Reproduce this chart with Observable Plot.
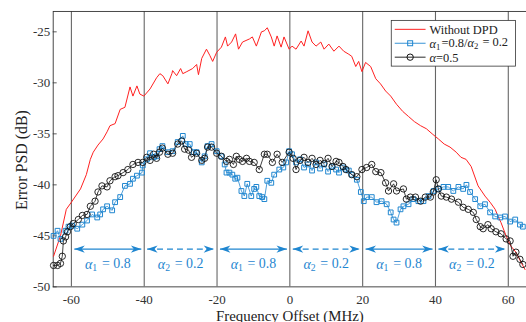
<!DOCTYPE html>
<html>
<head>
<meta charset="utf-8">
<script src="https://cdn.jsdelivr.net/npm/d3@7"></script>
<script src="https://cdn.jsdelivr.net/npm/@observablehq/plot@0.6"></script>
<style>
  html, body { margin: 0; padding: 0; background: #fff; overflow: hidden; }
  #chart { position: relative; width: 526px; height: 322px; overflow: hidden; }
</style>
</head>
<body>
<div id="chart"></div>
<script>
// Error PSD (dB) versus frequency offset (MHz), [offset, psd] pairs.
const withoutDpd = [
  [-64.9,-47.0],[-63.0,-45.0],[-61.4,-42.4],[-60.0,-41.7],[-57.5,-40.4],[-55.9,-39.0],[-54.8,-37.5],[-54.0,-36.8],
  [-52.7,-36.1],[-51.3,-35.5],[-50.2,-34.8],[-49.4,-34.2],[-48.0,-34.0],[-46.6,-32.6],[-45.3,-32.4],[-43.9,-30.4],
  [-43.1,-31.3],[-42.0,-30.3],[-41.2,-31.1],[-40.1,-31.3],[-38.4,-30.6],[-36.6,-29.5],[-35.7,-29.1],[-34.9,-29.3],
  [-33.5,-30.1],[-32.4,-29.1],[-32.2,-28.8],[-31.1,-29.3],[-30.0,-28.6],[-29.4,-29.1],[-28.3,-28.9],[-26.7,-28.6],
  [-25.6,-28.2],[-25.1,-29.2],[-24.2,-27.6],[-22.9,-26.7],[-22.0,-27.3],[-21.2,-27.9],[-20.1,-27.0],[-18.8,-26.5],
  [-17.7,-25.5],[-17.1,-26.4],[-16.0,-26.0],[-14.9,-25.2],[-14.1,-26.7],[-13.0,-26.0],[-11.1,-25.7],[-10.3,-25.5],
  [-9.2,-26.4],[-7.8,-25.0],[-7.0,-24.9],[-6.2,-24.6],[-5.1,-25.5],[-4.3,-26.4],[-3.5,-25.4],[-2.4,-26.5],
  [-1.6,-25.5],[-0.2,-26.7],[0.6,-26.4],[1.7,-26.7],[3.1,-25.9],[3.9,-26.4],[5.0,-24.9],[6.1,-26.0],
  [7.2,-26.4],[8.5,-26.0],[9.4,-26.7],[10.7,-26.2],[12.1,-26.9],[13.5,-26.4],[14.8,-26.9],[16.2,-27.2],
  [17.0,-27.4],[18.1,-28.4],[18.9,-27.9],[19.8,-28.9],[20.8,-28.0],[22.2,-28.4],[23.6,-29.6],[24.9,-30.1],
  [26.3,-30.8],[27.7,-31.3],[29.3,-32.1],[31.0,-32.8],[32.6,-33.3],[34.2,-33.8],[35.9,-34.2],[37.5,-34.5],
  [39.1,-35.0],[40.8,-35.5],[42.4,-36.0],[44.0,-36.3],[45.7,-36.8],[47.0,-37.3],[48.4,-37.5],[49.8,-38.2],
  [51.7,-40.1],[53.6,-41.1],[55.0,-41.7],[56.4,-42.4],[57.2,-43.1],[58.0,-43.7],[59.4,-45.0],[60.7,-46.0],
  [62.1,-46.6],[63.5,-47.6],[64.6,-48.3]
];

const alphaSplit = [
  [-64.9,-45.0],[-63.8,-44.5],[-63.0,-45.3],[-61.6,-44.5],[-60.8,-44.1],[-59.8,-44.0],[-58.4,-44.3],[-57.0,-43.9],
  [-55.7,-43.5],[-54.3,-42.9],[-52.9,-43.2],[-52.1,-42.9],[-51.3,-42.4],[-50.2,-42.1],[-48.8,-42.5],[-48.0,-41.7],
  [-46.6,-41.2],[-45.3,-40.1],[-43.9,-39.9],[-43.1,-39.4],[-42.0,-39.1],[-40.6,-38.8],[-40.4,-38.1],[-39.3,-37.5],
  [-38.4,-36.9],[-37.4,-37.3],[-36.6,-37.2],[-35.8,-36.5],[-35.0,-36.2],[-33.5,-36.8],[-32.2,-36.7],[-30.8,-35.8],
  [-29.4,-35.2],[-28.6,-36.0],[-27.5,-36.0],[-26.4,-36.8],[-25.6,-36.8],[-24.2,-37.8],[-23.4,-37.2],[-22.6,-36.2],
  [-21.5,-36.0],[-20.1,-36.7],[-18.8,-37.2],[-17.9,-38.0],[-17.4,-38.8],[-16.6,-38.8],[-15.8,-39.0],[-15.0,-39.4],
  [-14.4,-39.3],[-13.3,-40.6],[-12.5,-41.1],[-11.7,-39.9],[-10.6,-41.1],[-9.8,-40.4],[-9.2,-40.2],[-8.4,-41.1],
  [-7.6,-41.2],[-7.0,-41.4],[-6.2,-39.6],[-5.1,-39.8],[-4.3,-39.0],[-2.9,-38.5],[-1.8,-38.3],[-1.0,-37.8],
  [-0.2,-36.7],[0.6,-37.0],[1.7,-37.8],[2.8,-37.5],[3.9,-38.3],[5.0,-38.0],[6.1,-38.6],[7.2,-37.8],
  [8.3,-38.4],[9.4,-38.0],[10.5,-38.7],[11.6,-38.2],[12.7,-38.5],[13.5,-38.8],[14.6,-38.3],[15.4,-38.5],
  [16.2,-38.6],[17.0,-39.0],[18.4,-39.5],[19.5,-40.7],[20.3,-41.6],[21.1,-41.2],[22.5,-41.2],[23.8,-41.7],
  [25.2,-41.6],[26.6,-41.9],[27.7,-42.7],[28.5,-43.4],[29.3,-43.7],[30.4,-42.4],[31.2,-42.1],[32.6,-41.9],
  [33.9,-41.4],[35.3,-41.6],[36.7,-41.6],[38.1,-41.1],[39.5,-40.6],[40.8,-40.4],[42.2,-40.2],[43.5,-40.2],
  [44.9,-40.6],[46.3,-40.2],[47.6,-40.4],[48.5,-40.0],[49.5,-40.7],[50.9,-41.4],[52.3,-42.1],[53.6,-41.9],
  [55.0,-42.7],[56.4,-43.1],[57.8,-43.2],[59.1,-43.1],[60.5,-43.6],[61.9,-43.4],[63.2,-43.9],[64.0,-44.1]
];

const alphaHalf = [
  [-64.9,-47.9],[-63.8,-47.9],[-63.0,-47.7],[-62.5,-47.0],[-62.2,-45.5],[-61.6,-45.1],[-61.1,-44.6],[-60.3,-44.1],
  [-59.5,-43.8],[-58.1,-43.4],[-57.0,-43.0],[-55.7,-42.9],[-54.8,-42.1],[-53.5,-41.6],[-52.7,-40.7],[-51.6,-40.1],
  [-50.2,-40.2],[-49.4,-39.6],[-48.0,-39.2],[-47.2,-39.1],[-45.8,-38.8],[-44.5,-38.5],[-43.1,-38.0],[-41.7,-37.8],
  [-40.4,-37.8],[-39.3,-37.3],[-38.4,-37.6],[-37.4,-37.0],[-36.6,-37.4],[-35.8,-36.8],[-35.0,-36.4],[-33.5,-37.0],
  [-32.2,-36.9],[-30.8,-36.0],[-29.7,-35.7],[-28.9,-36.5],[-27.8,-36.6],[-27.0,-37.3],[-25.6,-36.9],[-24.2,-37.6],
  [-23.4,-37.4],[-22.6,-36.3],[-21.5,-36.3],[-20.1,-36.9],[-18.8,-37.2],[-17.4,-37.7],[-16.6,-37.5],[-15.5,-38.0],
  [-14.7,-37.2],[-13.9,-37.5],[-13.0,-37.7],[-11.9,-37.4],[-11.1,-37.7],[-9.8,-37.8],[-8.4,-38.5],[-7.0,-37.0],
  [-6.2,-37.0],[-4.8,-37.8],[-3.5,-37.0],[-2.1,-37.8],[-0.2,-36.8],[0.9,-37.4],[1.7,-38.5],[2.8,-37.6],
  [3.9,-37.3],[5.0,-37.8],[6.1,-37.4],[7.2,-38.0],[8.3,-37.6],[9.4,-37.9],[10.5,-37.4],[11.6,-38.2],
  [12.7,-37.7],[13.5,-37.8],[14.6,-38.2],[15.4,-38.5],[17.0,-39.0],[18.4,-39.2],[19.8,-38.5],[21.1,-38.3],
  [22.5,-38.0],[23.6,-38.7],[25.0,-38.8],[26.3,-39.8],[27.1,-40.6],[28.5,-39.9],[29.3,-40.6],[31.2,-40.4],
  [32.0,-41.4],[33.1,-41.2],[34.5,-41.2],[35.9,-41.6],[37.2,-41.2],[38.6,-41.2],[39.4,-40.7],[40.2,-39.5],
  [40.8,-40.4],[41.6,-41.1],[43.0,-41.2],[44.4,-41.4],[46.3,-41.7],[47.6,-42.2],[49.0,-42.4],[50.4,-42.7],
  [51.2,-43.4],[52.3,-44.1],[53.1,-44.3],[54.4,-43.9],[55.3,-44.3],[56.6,-44.6],[58.0,-44.8],[59.4,-45.3],
  [60.5,-45.5],[61.3,-47.0],[62.1,-46.6],[63.2,-47.3],[64.0,-47.8]
];

// Sub-band coefficient regions along the frequency axis.
const bands = [
  {from: -60, to: -40, label: "α₁ = 0.8", dashed: false},
  {from: -40, to: -20, label: "α₂ = 0.2", dashed: true},
  {from: -20, to: 0,   label: "α₁ = 0.8", dashed: false},
  {from: 0,   to: 20,  label: "α₂ = 0.2", dashed: true},
  {from: 20,  to: 40,  label: "α₁ = 0.8", dashed: false},
  {from: 40,  to: 60,  label: "α₂ = 0.2", dashed: true}
];

const xTicks = [-60, -40, -20, 0, 20, 40, 60];
const yTicks = [-50, -45, -40, -35, -30, -25];

const RED = "#ff1f1f";
const BLUE = "#1f86d0";
const BLACK = "#111";
const SERIF = "'Liberation Serif', 'DejaVu Serif', serif";

const arrowLevel = -46.3;   // dB level of the band arrows
const bandLabelLevel = -47.8;
const arrowGap = 0.8;       // MHz kept clear of each grid line

// Filled, swept-back arrowhead used at both ends of the band arrows.
function arrowHead(color) {
  const ns = "http://www.w3.org/2000/svg";
  const m = document.createElementNS(ns, "marker");
  m.setAttribute("viewBox", "-11 -5 12 10");
  m.setAttribute("markerWidth", "12");
  m.setAttribute("markerHeight", "10");
  m.setAttribute("markerUnits", "userSpaceOnUse");
  m.setAttribute("refX", "0");
  m.setAttribute("refY", "0");
  m.setAttribute("orient", "auto-start-reverse");
  const p = document.createElementNS(ns, "path");
  p.setAttribute("d", "M0,0L-10.5,-3.6L-7.5,0L-10.5,3.6Z");
  p.setAttribute("fill", color);
  p.setAttribute("stroke", "none");
  m.appendChild(p);
  return m;
}

const bandLink = (dashed) => Plot.link(bands.filter(b => b.dashed === dashed), {
  x1: b => b.from + arrowGap, x2: b => b.to - arrowGap,
  y1: () => arrowLevel, y2: () => arrowLevel,
  stroke: BLUE, strokeWidth: 1.3,
  strokeDasharray: dashed ? "6,4" : null,
  markerStart: arrowHead, markerEnd: arrowHead
});

const W = 529, H = 322, ML = 53, MR = 0;

const chart = Plot.plot({
  width: W, height: H,
  marginLeft: ML, marginRight: MR, marginTop: 11, marginBottom: 34,
  style: {fontFamily: SERIF, fontSize: "13px", color: "#333", background: "#fff", overflow: "visible"},
  x: {domain: [-65, 65]},
  y: {domain: [-50, -23]},
  marks: [
    Plot.ruleX(xTicks, {stroke: "#666", strokeWidth: 1.1}),
    Plot.axisX({ticks: xTicks, tickSize: 0, tickPadding: 8, tickFormat: d => String(d), label: null, fontSize: 13}),
    Plot.axisY({ticks: yTicks, tickSize: 0, tickPadding: 3, tickFormat: d => String(d), label: null, fontSize: 13}),
    Plot.tickY(yTicks, {y: d => d, stroke: "#333", strokeWidth: 0.8, insetRight: W - ML - MR - 4}),
    Plot.frame({stroke: "#333", strokeWidth: 0.9}),

    Plot.line(withoutDpd, {x: d => d[0], y: d => d[1], stroke: RED, strokeWidth: 1}),

    Plot.line(alphaSplit, {x: d => d[0], y: d => d[1], stroke: BLUE, strokeWidth: 0.8}),
    Plot.dot(alphaSplit, {x: d => d[0], y: d => d[1], symbol: "square", r: 2.7, stroke: BLUE, strokeWidth: 1, fill: "none"}),

    Plot.line(alphaHalf, {x: d => d[0], y: d => d[1], stroke: BLACK, strokeWidth: 0.8}),
    Plot.dot(alphaHalf, {x: d => d[0], y: d => d[1], symbol: "circle", r: 3.2, stroke: BLACK, strokeWidth: 0.9, fill: "none"}),

    bandLink(false),
    bandLink(true),
    Plot.text(bands, {
      x: b => (b.from + b.to) / 2, y: () => bandLabelLevel, text: "label",
      fill: BLUE, fontSize: 14, fontFamily: SERIF
    }),

    Plot.text(["Frequency Offset (MHz)"], {
      frameAnchor: "bottom", textAnchor: "middle", lineAnchor: "middle", dy: 30,
      text: d => d, fontSize: 15, fill: "#222", fontFamily: SERIF
    })
  ]
});

document.getElementById("chart").appendChild(chart);

const svg = d3.select(chart);

// Vertical axis title, centred beside the plotting area.
svg.append("text")
  .attr("transform", "translate(22,161) rotate(-90)")
  .attr("text-anchor", "middle").attr("dy", "0.32em")
  .attr("font-family", SERIF).attr("font-size", 16).attr("fill", "#222")
  .text("Error PSD (dB)");

// Italic alpha with a subscript index, as in the math labels.
function mathAlpha(sel, str) {
  sel.text(null);
  const parts = str.split(/(α[₁₂]?)/).filter(s => s.length);
  for (const part of parts) {
    if (part.startsWith("α")) {
      sel.append("tspan").attr("font-style", "italic").text("α");
      const sub = part.slice(1);
      if (sub) {
        sel.append("tspan").attr("font-size", "70%").attr("dy", "0.25em").text(sub === "₁" ? "1" : "2");
        sel.append("tspan").attr("dy", "-0.25em").text("\u200A");
      }
    } else {
      sel.append("tspan").text(part);
    }
  }
}

svg.selectAll("text").each(function() {
  const t = this.textContent;
  if (t.startsWith("α")) mathAlpha(d3.select(this), t);
});

// Legend box in the upper right corner of the axes.
const lg = svg.append("g").attr("font-family", SERIF).attr("font-size", 12.5)
  .attr("fill", "#222").attr("text-anchor", "start");
lg.append("rect").attr("x", 393.5).attr("y", 20.5).attr("width", 125).attr("height", 46)
  .attr("fill", "#fff").attr("stroke", "#333").attr("stroke-width", 0.8);
const rows = [
  {color: RED, marker: null, label: "Without DPD"},
  {color: BLUE, marker: "square", label: "α₁=0.8/α₂ = 0.2"},
  {color: BLACK, marker: "circle", label: "α=0.5"}
];
rows.forEach((r, i) => {
  const y = 29.5 + i * 14;
  lg.append("line").attr("x1", 397).attr("x2", 428).attr("y1", y).attr("y2", y)
    .attr("stroke", r.color).attr("stroke-width", r.marker ? 0.9 : 1);
  if (r.marker === "square") {
    lg.append("rect").attr("x", 410).attr("y", y - 2.5).attr("width", 5).attr("height", 5)
      .attr("fill", "none").attr("stroke", r.color);
  } else if (r.marker === "circle") {
    lg.append("circle").attr("cx", 412.5).attr("cy", y).attr("r", 3.2)
      .attr("fill", "none").attr("stroke", r.color);
  }
  const t = lg.append("text").attr("x", 432).attr("y", y).attr("dy", "0.35em");
  if (r.label.includes("α")) mathAlpha(t, r.label); else t.text(r.label);
});
</script>
</body>
</html>
